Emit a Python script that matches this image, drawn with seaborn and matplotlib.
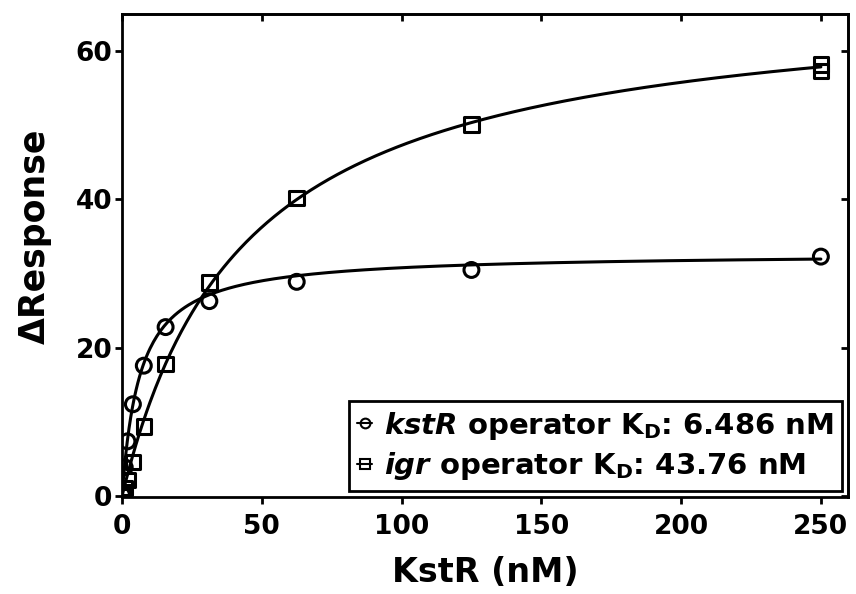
import numpy as np
import pandas as pd
import matplotlib
matplotlib.use("Agg")
import matplotlib.pyplot as plt
from matplotlib.lines import Line2D
import seaborn as sns

# ---- data ----
kstr_conc = [0, 0.98, 1.95, 3.9, 7.8, 15.6, 31.25, 62.5, 125, 250]
kstr_resp = [0.2, 3.9, 7.4, 12.4, 17.6, 22.8, 26.3, 28.9, 30.5, 32.3]
igr_conc = [0, 0.49, 0.98, 1.95, 3.9, 7.8, 15.6, 31.25, 62.5, 125, 250, 250]
igr_resp = [0.0, 0.5, 1.1, 2.2, 4.6, 9.4, 17.8, 28.8, 40.2, 50.1, 58.2, 57.3]
# one-site binding fit parameters (KD from legend, Bmax estimated)
kstr_kd, kstr_bmax = 6.486, 32.8
igr_kd, igr_bmax = 43.76, 68.0
legend_labels = [r"$\mathit{kstR}$ operator K$_\mathregular{D}$: 6.486 nM",
                 r"$\mathit{igr}$ operator K$_\mathregular{D}$: 43.76 nM"]
x_ticks = [0, 50, 100, 150, 200, 250]
y_ticks = [0, 20, 40, 60]

sns.set_style("ticks")
plt.rcParams["font.family"] = ["DejaVu Sans"]
plt.rcParams["font.weight"] = "bold"
plt.rcParams["text.color"] = "black"
plt.rcParams["axes.labelcolor"] = "black"
plt.rcParams["xtick.color"] = "black"
plt.rcParams["ytick.color"] = "black"
plt.rcParams["mathtext.fontset"] = "custom"
plt.rcParams["mathtext.rm"] = "DejaVu Sans:bold"
plt.rcParams["mathtext.it"] = "DejaVu Sans:italic:bold"
plt.rcParams["mathtext.bf"] = "DejaVu Sans:bold"

fig = plt.figure(figsize=(8.56, 5.94), dpi=100)
ax = fig.add_axes([122/856, 1-497/594, (848-122)/856, (497-14)/594])

xf = np.linspace(0, 250, 400)
fit_df = pd.DataFrame({
    "x": np.concatenate([xf, xf]),
    "y": np.concatenate([kstr_bmax*xf/(kstr_kd+xf), igr_bmax*xf/(igr_kd+xf)]),
    "s": ["kstR"]*len(xf) + ["igr"]*len(xf),
})
sns.lineplot(data=fit_df, x="x", y="y", units="s", estimator=None,
             color="black", lw=2.2, ax=ax, legend=False)

sns.scatterplot(x=kstr_conc, y=kstr_resp, marker="o", s=115, facecolor="none",
                edgecolor="black", linewidth=2.2, ax=ax, zorder=3)
sns.scatterplot(x=igr_conc, y=igr_resp, marker="s", s=110, facecolor="none",
                edgecolor="black", linewidth=2.2, ax=ax, zorder=3)

ax.set_xlim(0, 259.7)
ax.set_ylim(-0.1, 65)
ax.set_xticks(x_ticks)
ax.set_yticks(y_ticks)
for s in ax.spines.values():
    s.set_linewidth(2.0)
    s.set_color("black")
ax.tick_params(axis="both", direction="out", length=5, width=2, labelsize=19, pad=2)
ax.tick_params(axis="x", pad=7)
for lab in ax.get_xticklabels() + ax.get_yticklabels():
    lab.set_fontweight("bold")

top = ax.secondary_xaxis("top")
top.set_xticks(x_ticks)
top.tick_params(direction="in", length=5, width=2, labeltop=False)
top.spines["top"].set_linewidth(2.0)
right = ax.secondary_yaxis("right")
right.set_yticks(y_ticks)
right.tick_params(direction="in", length=5, width=2, labelright=False)
right.spines["right"].set_linewidth(2.0)

ax.set_xlabel("KstR (nM)", fontsize=24, fontweight="bold")
ax.set_ylabel("ΔResponse", fontsize=25, fontweight="bold")
ax.xaxis.set_label_coords((485-122)/726, -(573-497)/483)
ax.yaxis.set_label_coords((35-122)/726, (497-236)/483)
ax.xaxis.label.set_va("center")
ax.yaxis.label.set_va("center")

handles = [Line2D([], [], color="black", lw=1.5, marker="o", ms=7, mfc="none", mew=1.5),
           Line2D([], [], color="black", lw=1.5, marker="s", ms=7, mfc="none", mew=1.5)]
leg = ax.legend(handles, legend_labels, loc="lower right", fontsize=21,
                handlelength=0.5, handletextpad=0.4, borderpad=0.3,
                labelspacing=0.3, borderaxespad=0.2, fancybox=False,
                frameon=True, edgecolor="black", framealpha=1)
leg.get_frame().set_linewidth(2.0)
for t in leg.get_texts():
    t.set_fontweight("bold")

fig.savefig("out.png", dpi=100)
